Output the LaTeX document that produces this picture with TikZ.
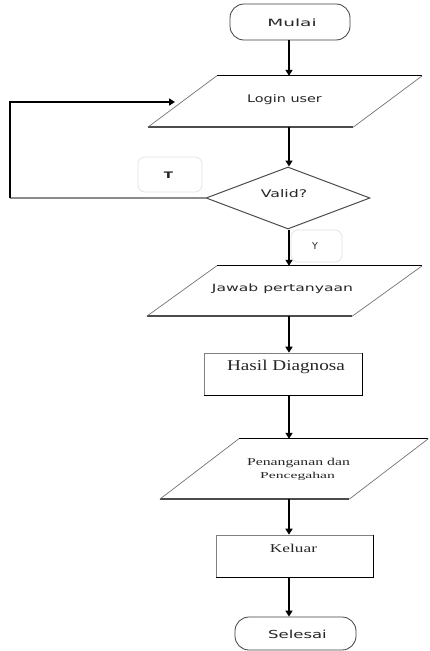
\documentclass[tikz,border=0pt]{standalone}
\usepackage{fontspec}
\usepackage{graphicx}
\setmainfont{Liberation Serif}
\newfontfamily\sfx{DejaVu Sans}
\usetikzlibrary{shapes.geometric,arrows.meta,calc}
\newcommand{\sx}[2]{\scalebox{#1}[1]{#2}}
\newcommand{\drawpara}[2]{%
  \draw[black, line width=0.8pt] ($(#1.north west)+(#2,0)$) -- (#1.north east);
  \draw[black!70, line width=1.6pt] (#1.south west) -- ($(#1.south east)-(#2,0)$);
  \draw[black!55, line width=0.7pt] (#1.south west) -- ($(#1.north west)+(#2,0)$);
  \draw[black!55, line width=0.7pt] ($(#1.south east)-(#2,0)$) -- (#1.north east);}
\begin{document}
\begin{tikzpicture}[x=1pt,y=-1pt,
  conn/.style={line width=1.6pt, draw=black},
  arr/.style={conn,-{Triangle[width=7pt,length=6pt]}},
  term/.style={draw=black!75, line width=0.8pt, rounded corners=14pt, inner sep=0pt},
  pbox/.style={draw=none, inner sep=0pt},
  rbox/.style={draw=black!50, line width=0.6pt, inner sep=0pt, minimum width=158pt, minimum height=42pt},
  lbox/.style={draw=black!12, line width=0.6pt, rounded corners=7pt, inner sep=0pt},
  dec/.style={diamond, draw=black!70, line width=1pt, inner sep=0pt, minimum width=164pt, minimum height=62pt},
  txt/.style={inner sep=0pt, text=black!85}
]
\useasboundingbox (0,0) rectangle (430,651);
\fill[white] (0,0) rectangle (430,651);

% shapes
\node[term, minimum width=120pt, minimum height=36pt] (mulai) at (290,22) {};
\node[pbox, minimum width=274pt, minimum height=51pt] (login) at (285,101.5) {};
\drawpara{login}{69}
\node[dec] (valid) at (288,198) {};
\node[pbox, minimum width=275pt, minimum height=50pt] (jawab) at (284.5,291) {};
\drawpara{jawab}{70}
\node[rbox] (hasil) at (283.5,374) {};
\draw[black, line width=1.2pt] (hasil.north east) -- (hasil.south east) -- (hasil.south west);
\node[pbox, minimum width=268pt, minimum height=60pt] (pen) at (294,469) {};
\drawpara{pen}{79}
\node[rbox, minimum width=157pt] (keluar) at (294.5,556) {};
\draw[black, line width=1.2pt] (keluar.north east) -- (keluar.south east) -- (keluar.south west);
\node[term, minimum width=121pt, minimum height=33pt] (selesai) at (295.5,633.5) {};
\node[lbox, minimum width=64pt, minimum height=35pt] (tbox) at (170,174.5) {};
\node[lbox, minimum width=51pt, minimum height=32pt] (ybox) at (316.5,246) {};

% texts
\node[txt] (mulaiT) at (292,23) {\sfx\fontsize{10}{12}\selectfont\sx{1.85}{Mulai}};
\node[txt] (loginT) at (284.5,100) {\sfx\fontsize{10.5}{12}\selectfont\sx{1.37}{Login user}};
\node[txt] (validT) at (284,194) {\sfx\fontsize{10.5}{12}\selectfont\sx{1.5}{Valid?}};
\node[txt] (jawabT) at (282.5,289) {\sfx\fontsize{10}{12}\selectfont\sx{1.56}{Jawab pertanyaan}};
\node[txt] (hasilT) at (286,367) {\fontsize{15}{17}\selectfont\sx{1.28}{Hasil Diagnosa}};
\node[txt] (penT1) at (298.5,463) {\fontsize{10.5}{12}\selectfont\sx{1.5}{Penanganan dan}};
\node[txt] (penT2) at (297.5,476) {\fontsize{9}{11}\selectfont\sx{1.74}{Pencegahan}};
\node[txt] (keluarT) at (293.5,548) {\fontsize{12}{14}\selectfont\sx{1.44}{Keluar}};
\node[txt] (selesaiT) at (297.5,634) {\sfx\fontsize{11}{13}\selectfont\sx{1.5}{Selesai}};
\node[txt] (tT) at (168.5,175) {\sfx\bfseries\fontsize{9}{11}\selectfont\sx{1.5}{T}};
\node[txt] (yT) at (315,246) {\sfx\fontsize{9.5}{11}\selectfont Y};

% connectors
\coordinate (ax) at (289,0);
\coordinate (lp) at (10,0);
\coordinate (lin) at (175,102);
\draw[arr] (mulai.south -| ax) -- (login.north -| ax);
\draw[arr] (login.south -| ax) -- (valid.north -| ax);
\draw[arr] (valid.south -| ax) -- (jawab.north -| ax);
\draw[arr] (jawab.south -| ax) -- (hasil.north -| ax);
\draw[arr] (hasil.south -| ax) -- (pen.north -| ax);
\draw[arr] (pen.south -| ax) -- (keluar.north -| ax);
\draw[arr] (keluar.south -| ax) -- (selesai.north -| ax);
\draw[conn, draw=black!45] (valid.west) -- (valid.west -| lp);
\draw[arr] (valid.west -| lp) -- (lin -| lp) -- (lin);
\end{tikzpicture}
\end{document}
